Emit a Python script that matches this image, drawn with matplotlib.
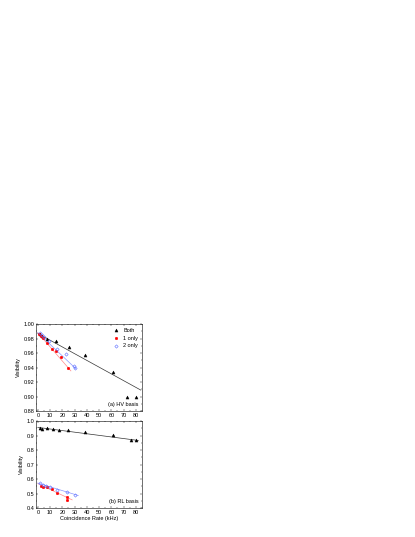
import matplotlib
matplotlib.use("Agg")
import matplotlib.pyplot as plt
import numpy as np
from matplotlib.ticker import MultipleLocator

# ---- data: (a) HV basis ----
hv_both_x = [1.5, 3.5, 7.7, 14.5, 25.4, 38.3, 61.2, 72.7, 80.0]
hv_both_y = [0.986, 0.984, 0.980, 0.977, 0.968, 0.957, 0.934, 0.900, 0.900]
hv_one_x = [0.8, 2.5, 4.4, 7.7, 11.2, 14.5, 19.0, 25.0]
hv_one_y = [0.986, 0.984, 0.981, 0.974, 0.966, 0.963, 0.954, 0.939]
hv_two_x = [1.5, 3.5, 5.0, 9.0, 16.0, 23.0, 29.5, 30.5]
hv_two_y = [0.987, 0.985, 0.982, 0.977, 0.966, 0.959, 0.942, 0.940]
# linear fits: (intercept, slope, xmax)
hv_fit_both = (0.987, -0.00093, 84.0)
hv_fit_one = (0.988, -0.00195, 27.0)
hv_fit_two = (0.988, -0.00160, 31.0)

# ---- data: (b) RL basis ----
rl_both_x = [1.4, 3.5, 7.7, 12.3, 17.2, 24.8, 38.5, 61.0, 76.0, 80.0]
rl_both_y = [0.954, 0.947, 0.949, 0.945, 0.935, 0.935, 0.924, 0.903, 0.868, 0.866]
rl_one_x = [2.2, 4.4, 7.1, 11.2, 15.8, 24.0, 24.0]
rl_one_y = [0.555, 0.545, 0.545, 0.533, 0.505, 0.476, 0.458]
rl_two_x = [2.0, 4.0, 7.0, 10.0, 16.0, 24.0, 30.0]
rl_two_y = [0.570, 0.562, 0.553, 0.545, 0.525, 0.508, 0.490]
rl_fit_both = (0.956, -0.00110, 82.0)
rl_fit_one = (0.568, -0.00400, 28.0)
rl_fit_two = (0.572, -0.00260, 33.0)

xticks = [0, 10, 20, 30, 40, 50, 60, 70, 80]

FS = 4.0
plt.rcParams['font.family'] = ['Liberation Sans', 'DejaVu Sans']

fig = plt.figure(figsize=(4.15, 5.37), dpi=100)
ax1 = fig.add_axes([0.0867, 0.2346, 0.2555, 0.162])
ax2 = fig.add_axes([0.0867, 0.054, 0.2555, 0.162])

BLACK = '#000000'
RED = '#ff0000'
BLUE = '#5a6cff'
LRED = '#ff8a8a'
LBLUE = '#8a96ff'

def draw(ax, bx, by, ox, oy, tx, ty, fb, fo, ft):
    for fit, col in ((fb, '#333333'), (fo, LRED), (ft, LBLUE)):
        xs = np.array([0.0, fit[2]])
        ax.plot(xs, fit[0] + fit[1] * xs, color=col, lw=0.5, zorder=1)
    ax.plot(bx, by, ls='none', marker='^', ms=2.2, color=BLACK, mec=BLACK, mew=0.3, label='Both', zorder=3)
    ax.plot(ox, oy, ls='none', marker='o', ms=1.9, color=RED, mec=RED, mew=0.3, label='1 only', zorder=3)
    ax.plot(tx, ty, ls='none', marker='D', ms=1.7, mfc='none', mec=BLUE, mew=0.4, label='2 only', zorder=3)
    ax.set_xlim(-1.5, 85)
    ax.set_xticks(xticks)
    ax.xaxis.set_minor_locator(MultipleLocator(5))
    ax.tick_params(which='both', direction='in', top=True, right=True, labelsize=FS,
                   width=0.3, pad=1.2)
    ax.tick_params(which='major', length=1.6)
    ax.tick_params(which='minor', length=0.9)
    for s in ax.spines.values():
        s.set_linewidth(0.4)
    ax.set_ylabel('Visibility', fontsize=FS, labelpad=1.5)

draw(ax1, hv_both_x, hv_both_y, hv_one_x, hv_one_y, hv_two_x, hv_two_y,
     hv_fit_both, hv_fit_one, hv_fit_two)
ax1.set_ylim(0.88, 1.00)
ax1.yaxis.set_major_locator(MultipleLocator(0.02))
ax1.yaxis.set_minor_locator(MultipleLocator(0.01))
ax1.yaxis.set_major_formatter(matplotlib.ticker.FormatStrFormatter('%.2f'))
ax1.text(0.97, 0.05, '(a) HV basis', transform=ax1.transAxes, ha='right', va='bottom', fontsize=FS)
ax1.legend(loc='upper right', frameon=False, fontsize=FS, handlelength=1.0,
           handletextpad=0.8, borderaxespad=0.3, labelspacing=0.5, numpoints=1)

draw(ax2, rl_both_x, rl_both_y, rl_one_x, rl_one_y, rl_two_x, rl_two_y,
     rl_fit_both, rl_fit_one, rl_fit_two)
ax2.set_ylim(0.4, 1.0)
ax2.yaxis.set_major_locator(MultipleLocator(0.1))
ax2.yaxis.set_minor_locator(MultipleLocator(0.05))
ax2.yaxis.set_major_formatter(matplotlib.ticker.FormatStrFormatter('%.1f'))
ax2.text(0.97, 0.05, '(b) RL basis', transform=ax2.transAxes, ha='right', va='bottom', fontsize=FS)
ax2.set_xlabel('Coincidence Rate (kHz)', fontsize=FS, labelpad=1.0)

fig.savefig('out.png', dpi=100)
